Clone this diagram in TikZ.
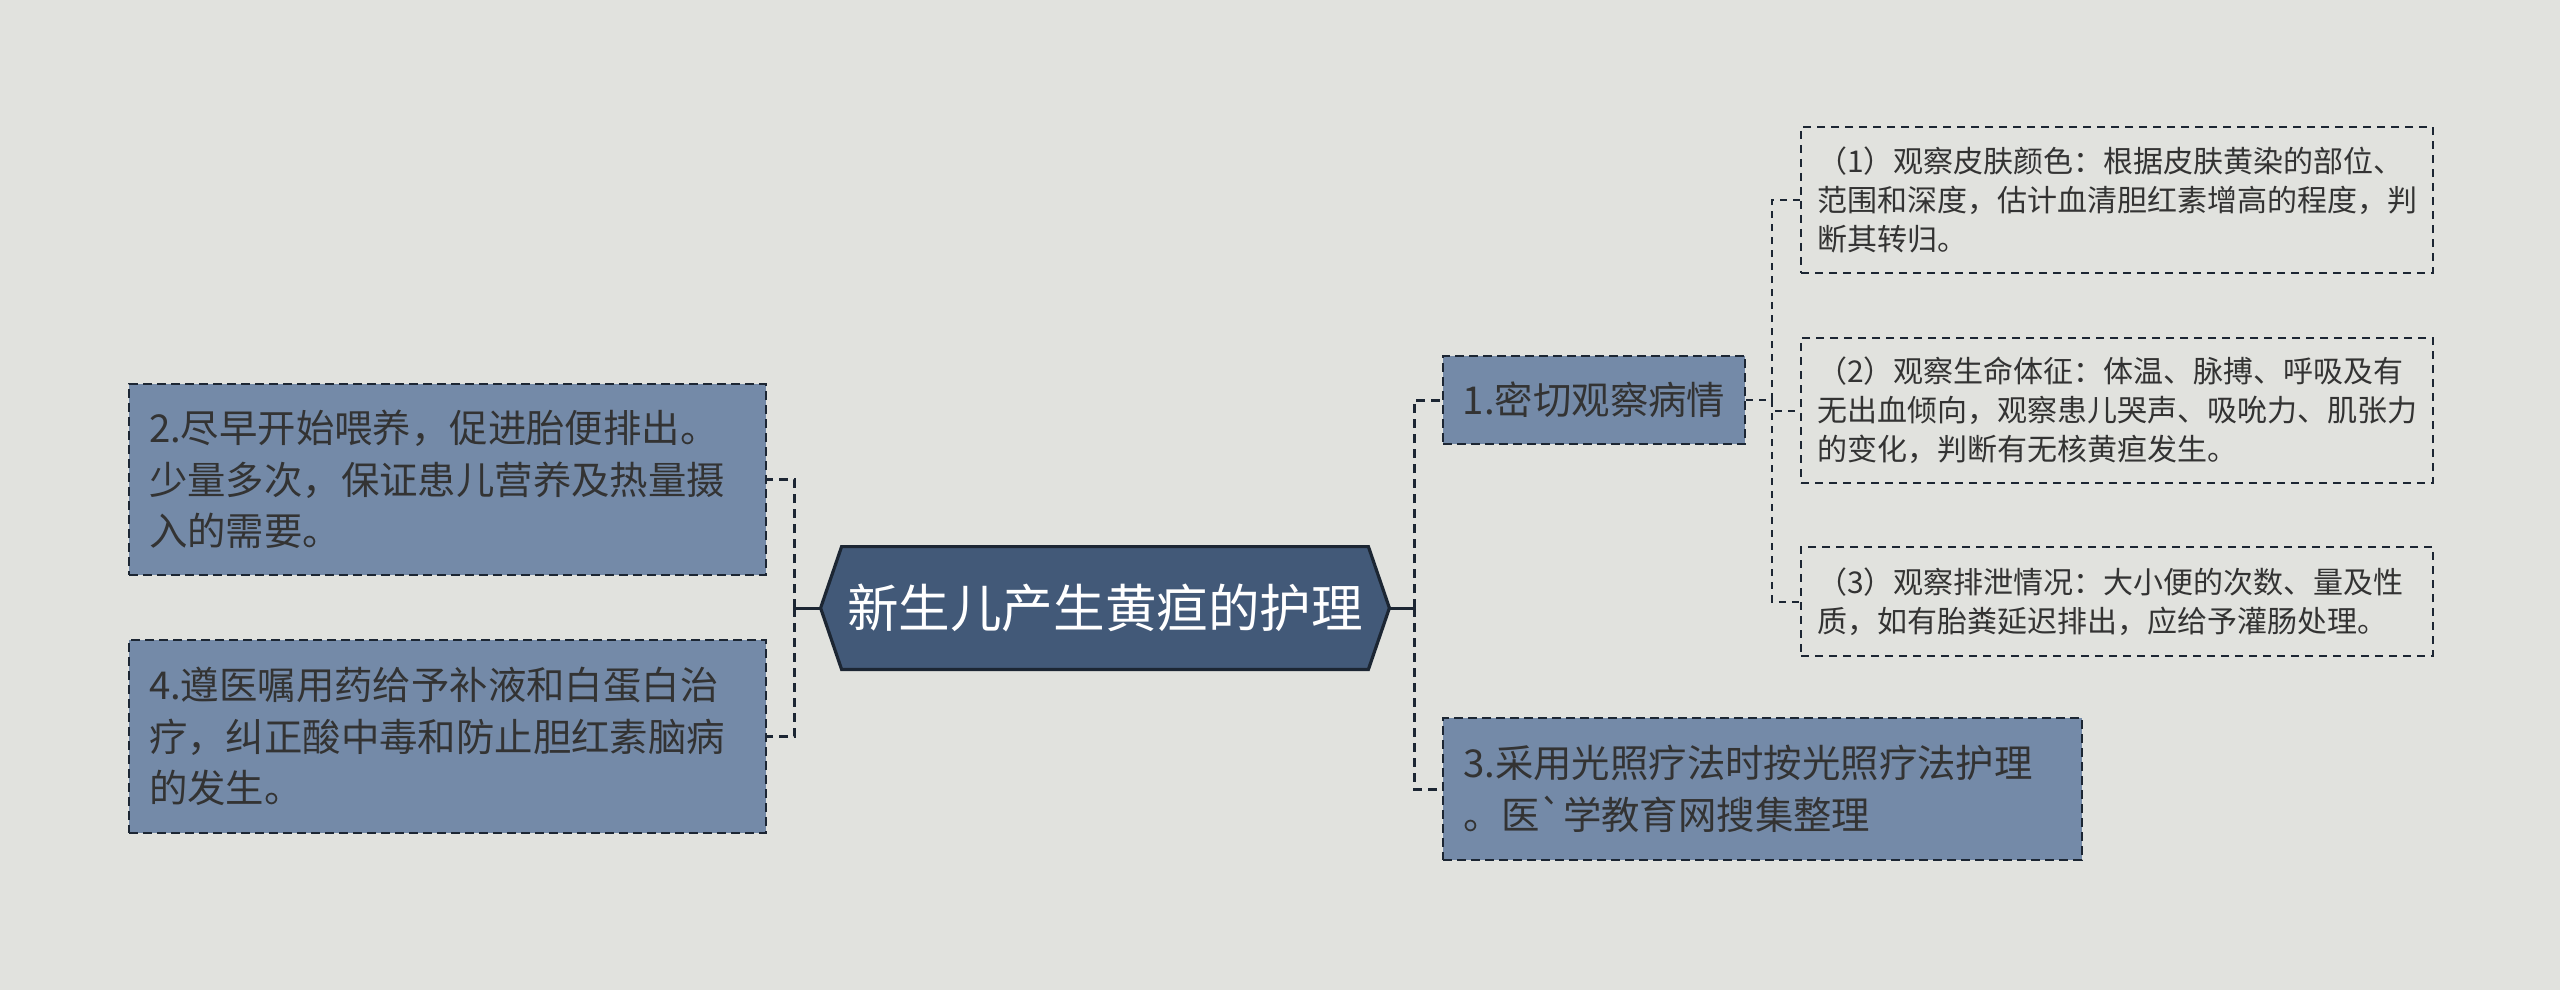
\documentclass[tikz,border=0pt]{standalone}
\usepackage{fontspec}
\newfontfamily\cjk{Noto Sans CJK SC}
\usetikzlibrary{backgrounds,calc}
\definecolor{bg}{HTML}{E1E2DE}
\definecolor{boxfill}{HTML}{748AA8}
\definecolor{rootfill}{HTML}{425978}
\definecolor{edge}{HTML}{1C2633}
\definecolor{txt}{HTML}{333333}
\begin{document}
\begin{tikzpicture}[x=0.5pt,y=-0.5pt,
  topic/.style={draw=edge, fill=boxfill, line width=1.2pt, dash pattern=on 4.5pt off 2.5pt,
    inner xsep=10pt, inner ysep=0pt, text=txt, align=left, anchor=center,
    font=\cjk\fontsize{19.2pt}{25.75pt}\selectfont},
  sub/.style={draw=edge, line width=0.9pt, dash pattern=on 4pt off 3pt,
    inner xsep=8pt, inner ysep=0pt, text=txt, align=left, anchor=center,
    text width=300pt, minimum height=#1,
    font=\cjk\fontsize{15pt}{19.5pt}\selectfont},
  conn/.style={draw=edge, line width=1.5pt, dash pattern=on 4.5pt off 3pt},
  solidconn/.style={draw=edge, line width=1.5pt},
  subconn/.style={draw=edge, line width=1pt, dash pattern=on 3.5pt off 3pt}
]
\useasboundingbox (0,0) rectangle (2560,990);

% root
\node[minimum width=284pt, minimum height=61pt, inner sep=0pt, text=white,
  font=\cjk\fontsize{25.8pt}{30pt}\selectfont] (root) at (1105,608) {新生儿产生黄疸的护理};
\begin{scope}[on background layer]
\fill[bg] (0,0) rectangle (2560,990);
\draw[fill=rootfill, draw=edge, line width=1.6pt, line join=miter]
  (root.west) -- ([xshift=10.5pt]root.north west) -- ([xshift=-10.5pt]root.north east)
  -- (root.east) -- ([xshift=-10.5pt]root.south east) -- ([xshift=10.5pt]root.south west) -- cycle;
\end{scope}

% left topics
\node[topic, text width=298.5pt, minimum height=95.5pt] (b2) at (447.5,479.5)
  {2.尽早开始喂养，促进胎便排出。\\少量多次，保证患儿营养及热量摄\\入的需要。};
\node[topic, text width=298.5pt, minimum height=96.5pt] (b4) at (447.5,736.5)
  {4.遵医嘱用药给予补液和白蛋白治\\疗，纠正酸中毒和防止胆红素脑病\\的发生。};

% right topics
\node[topic, align=center, minimum width=151pt, minimum height=44pt] (b1) at (1594,400)
  {1.密切观察病情};
\node[topic, text width=299.5pt, minimum height=71pt] (b3) at (1762.5,789)
  {3.采用光照疗法时按光照疗法护理\\。医\textasciigrave 学教育网搜集整理};

% subtopics
\node[sub=73pt] (s1) at (2117,200)
  {（1）观察皮肤颜色：根据皮肤黄染的部位、\\范围和深度，估计血清胆红素增高的程度，判\\断其转归。};
\node[sub=72.5pt] (s2) at (2117,410.5)
  {（2）观察生命体征：体温、脉搏、呼吸及有\\无出血倾向，观察患儿哭声、吸吮力、肌张力\\的变化，判断有无核黄疸发生。};
\node[sub=54.5pt] (s3) at (2117,601.5)
  {（3）观察排泄情况：大小便的次数、量及性\\质，如有胎粪延迟排出，应给予灌肠处理。};

% connectors
\coordinate (jL) at ($(root.west)+(-26,0)$);
\coordinate (jR) at ($(root.east)+(25,0)$);
\coordinate (jS) at ($(b1.east)+(26,0)$);
\draw[solidconn] (root.west) -- (jL);
\draw[conn] (jL) |- (b2.east);
\draw[conn] (jL) |- (b4.east);
\draw[solidconn] (root.east) -- (jR);
\draw[conn] (jR) |- (b1.west);
\draw[conn] (jR) |- (b3.west);
\draw[subconn] (b1.east) -- (jS);
\draw[subconn] (jS) |- (s1.west);
\draw[subconn] (jS) |- (s2.west);
\draw[subconn] (jS) |- (s3.west);
\end{tikzpicture}
\end{document}
